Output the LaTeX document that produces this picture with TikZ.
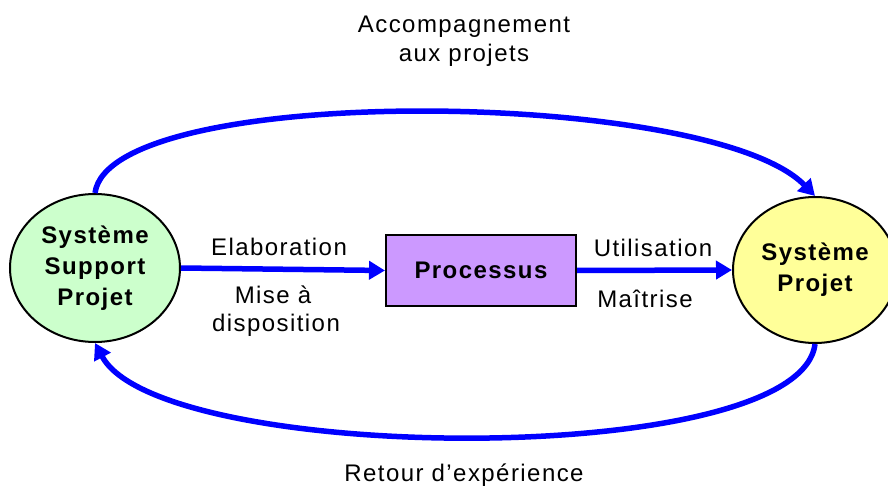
\documentclass[tikz,border=0pt]{standalone}
\usepackage{fontspec}
\setmainfont{Liberation Sans}[LetterSpace=6]
\usepackage{xcolor}
\usetikzlibrary{arrows.meta,shapes.geometric,positioning}
\definecolor{supportgreen}{HTML}{CCFFCC}
\definecolor{projetyellow}{HTML}{FFFF99}
\definecolor{processviolet}{HTML}{CC99FF}
\definecolor{flowblue}{HTML}{0000FF}
\newcommand{\txtsize}{\fontsize{24}{31}\selectfont}

\begin{document}
\begin{tikzpicture}[x=1pt,y=-1pt,font=\txtsize,
  systeme/.style={draw=black,line width=2pt,ellipse,inner sep=0pt,align=center,font=\txtsize\bfseries},
  flow/.style={draw=flowblue,line width=5.5pt,-{Triangle[length=16pt,width=18pt]}},
  label/.style={anchor=base,align=center}]
\useasboundingbox (0,0) rectangle (888,486);
\node[systeme,fill=supportgreen,minimum width=170pt,minimum height=148pt](support)at (95,268){Système\\Support\\Projet};
\node[systeme,fill=projetyellow,minimum width=164pt,minimum height=146pt](projet)at (815,270){Système\\Projet};
\node[draw=black,line width=2pt,fill=processviolet,minimum width=190pt,minimum height=71pt,inner sep=0pt,font=\txtsize\bfseries](processus)at (481,270.5){Processus};
\draw[flow] (support.east)--(processus.west);
\draw[flow] (processus.east)--(projet.west);
\draw[flow] (support.north) .. controls (110,82) and (710,88) .. (projet.north);
\draw[flow] (projet.south) .. controls (800,470) and (160,465) .. (support.south);
\node[label](accomp)at (464,33){Accompagnement};
\node[label](auxproj)at (464,62){aux projets};
\node[label](elab)at (279,255){Elaboration};
\node[label](mise)at (273,303){Mise à};
\node[label](dispo)at (276,331){disposition};
\node[label](util)at (653,257){Utilisation};
\node[label](maitr)at (645,307){Maîtrise};
\node[label](retour)at (464,481){Retour d’expérience};
\end{tikzpicture}
\end{document}
